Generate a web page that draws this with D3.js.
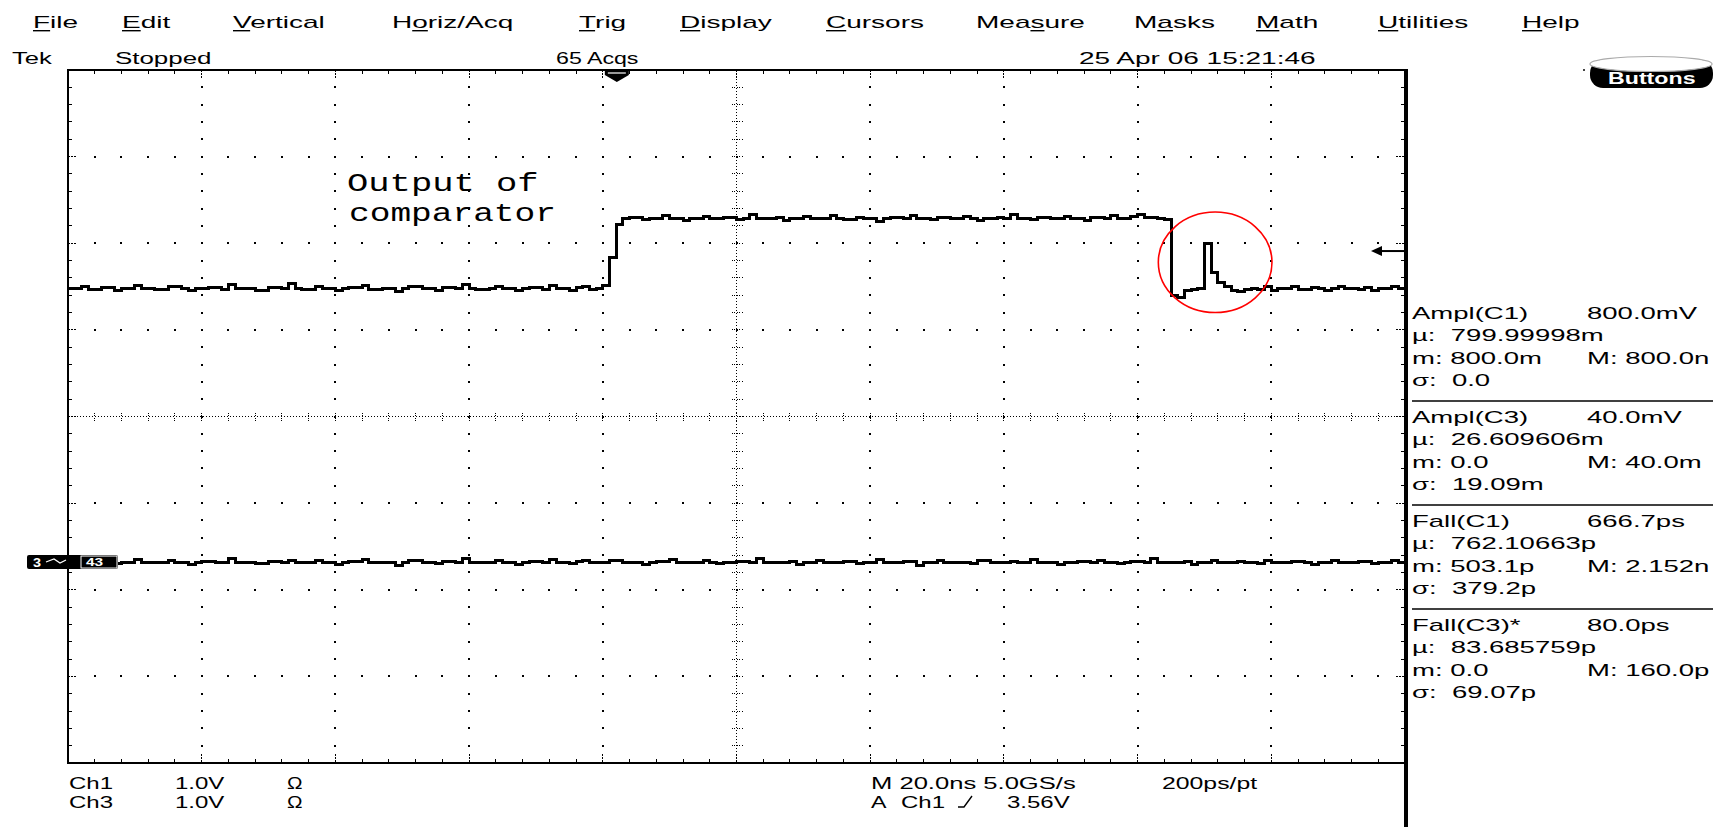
<!DOCTYPE html>
<html>
<head>
<meta charset="utf-8">
<script src="https://cdn.jsdelivr.net/npm/d3@7"></script>
<style>
  html, body { margin: 0; padding: 0; background: #fff; overflow: hidden; }
  svg { display: block; }
</style>
</head>
<body>
<svg id="scope" width="1728" height="827"></svg>
<script>
// ---------------- data ----------------
const menuItems   = ["File", "Edit", "Vertical", "Horiz/Acq", "Trig", "Display", "Cursors", "Measure", "Masks", "Math", "Utilities", "Help"];
const menuHotkeys = [0, 0, 0, 1, 0, 0, 0, 3, 1, 0, 0, 0];   // underlined letter index

const statusItems = ["Tek", "Stopped", "65 Acqs", "25 Apr 06 15:21:46"];

const horizDivs = 10, vertDivs = 8;
const nsPerDiv = 20, voltsPerDiv = 1.0;
const sampleIntervalNs = 1;
const triggerTimeNs = 82.1;
const refLevelVolts = 1.91;

// Ch1: comparator output (volts, one sample per ns)
const ch1Volts = [
  1.48,1.48,1.50,1.47,1.47,1.49,1.49,1.46,1.48,1.48,
  1.51,1.48,1.48,1.47,1.47,1.50,1.50,1.48,1.45,1.48,
  1.48,1.49,1.49,1.47,1.52,1.48,1.48,1.48,1.46,1.46,
  1.49,1.49,1.48,1.53,1.48,1.47,1.47,1.50,1.48,1.48,
  1.45,1.48,1.49,1.49,1.51,1.47,1.47,1.48,1.48,1.44,
  1.48,1.50,1.50,1.48,1.48,1.46,1.49,1.49,1.48,1.52,
  1.48,1.47,1.47,1.48,1.50,1.48,1.48,1.45,1.48,1.49,
  1.49,1.47,1.51,1.48,1.48,1.46,1.49,1.50,1.47,1.48,
  1.51,1.84,2.22,
  2.28,2.30,2.30,2.27,2.29,2.29,2.32,2.28,2.28,2.26,
  2.29,2.29,2.31,2.28,2.28,2.30,2.30,2.27,2.29,2.33,
  2.29,2.28,2.28,2.30,2.26,2.29,2.29,2.31,2.28,2.28,
  2.29,2.32,2.29,2.27,2.27,2.30,2.29,2.29,2.25,2.29,
  2.30,2.30,2.28,2.32,2.29,2.29,2.27,2.30,2.30,2.28,
  2.28,2.31,2.29,2.26,2.29,2.29,2.30,2.28,2.33,2.29,
  2.29,2.27,2.30,2.30,2.28,2.29,2.31,2.29,2.29,2.26,
  2.30,2.30,2.29,2.32,2.29,2.29,2.31,2.33,2.30,2.30,
  2.29,2.27,
  1.40,1.37,1.45,1.47,1.48,2.00,1.66,1.55,1.50,1.46,
  1.44,1.47,1.48,1.47,1.50,1.46,
  1.48,1.48,1.50,1.47,1.47,1.49,1.48,1.46,1.48,1.50,
  1.48,1.48,1.47,1.49,1.45,1.48,1.48,1.50,1.48,1.48
];

// Ch3 (volts, one sample per ns)
const ch3Volts = [
  -1.68,-1.68,-1.66,-1.69,-1.69,-1.67,-1.67,-1.70,-1.68,-1.68,
  -1.65,-1.68,-1.68,-1.69,-1.69,-1.66,-1.68,-1.68,-1.71,-1.68,
  -1.67,-1.67,-1.69,-1.69,-1.64,-1.68,-1.68,-1.68,-1.70,-1.70,
  -1.67,-1.67,-1.68,-1.66,-1.68,-1.69,-1.69,-1.66,-1.68,-1.68,
  -1.71,-1.68,-1.67,-1.67,-1.65,-1.69,-1.69,-1.68,-1.68,-1.72,
  -1.68,-1.66,-1.66,-1.68,-1.68,-1.70,-1.67,-1.67,-1.68,-1.64,
  -1.68,-1.69,-1.69,-1.68,-1.66,-1.68,-1.68,-1.71,-1.68,-1.67,
  -1.67,-1.69,-1.65,-1.68,-1.68,-1.70,-1.67,-1.66,-1.69,-1.68,
  -1.68,-1.66,-1.66,-1.69,-1.68,-1.68,-1.71,-1.68,-1.67,-1.67,
  -1.65,-1.68,-1.68,-1.69,-1.69,-1.66,-1.68,-1.70,-1.68,-1.68,
  -1.67,-1.67,-1.69,-1.64,-1.68,-1.68,-1.69,-1.69,-1.67,-1.71,
  -1.68,-1.68,-1.66,-1.68,-1.69,-1.69,-1.67,-1.67,-1.70,-1.68,
  -1.68,-1.65,-1.68,-1.68,-1.69,-1.67,-1.67,-1.72,-1.68,-1.68,
  -1.66,-1.69,-1.69,-1.68,-1.68,-1.70,-1.66,-1.66,-1.68,-1.69,
  -1.69,-1.67,-1.68,-1.68,-1.65,-1.69,-1.69,-1.68,-1.71,-1.68,
  -1.68,-1.67,-1.67,-1.69,-1.66,-1.68,-1.68,-1.70,-1.68,-1.67,
  -1.67,-1.69,-1.64,-1.68,-1.68,-1.69,-1.69,-1.67,-1.71,-1.68,
  -1.68,-1.66,-1.68,-1.69,-1.69,-1.67,-1.68,-1.68,-1.70,-1.66,
  -1.68,-1.68,-1.69,-1.67,-1.67,-1.68,-1.71,-1.68,-1.68,-1.66,
  -1.69,-1.69,-1.68,-1.67,-1.67,-1.70,-1.68,-1.68,-1.66,-1.68,
  -1.68
];

// Measurement readouts
const measTitles = ["Ampl(C1)", "Ampl(C3)", "Fall(C1)", "Fall(C3)*"];
const measValues = ["800.0mV", "40.0mV", "666.7ps", "80.0ps"];
const measMeans  = ["799.99998m", "26.609606m", "762.10663p", "83.685759p"];
const measMins   = ["800.0m", "0.0", "503.1p", "0.0"];
const measMaxes  = ["800.0n", "40.0m", "2.152n", "160.0p"];
const measSigmas = ["0.0", "19.09m", "379.2p", "69.07p"];

const chSettings  = [["Ch1", "1.0V", "\u03A9"], ["Ch3", "1.0V", "\u03A9"]];
const horizLine   = ["M 20.0ns 5.0GS/s", "200ps/pt"];
const trigLine    = ["A", "Ch1", "3.56V"];
const noteLines   = ["Output of", "comparator"];

// ---------------- layout ----------------
const svg = d3.select("#scope");
const X0 = 68, X1 = 1405, Y0 = 70, Y1 = 763;
const SANS = "'Liberation Sans', Arial, sans-serif";
const MONO = "'Liberation Mono', 'Courier New', monospace";

svg.append("rect").attr("width", 1728).attr("height", 827).attr("fill", "#fff");

const xDiv  = d3.scaleLinear().domain([0, horizDivs]).range([X0, X1]);
const yDiv  = d3.scaleLinear().domain([-vertDivs / 2, vertDivs / 2]).range([Y1, Y0]);
const xTime = d3.scaleLinear().domain([0, horizDivs * nsPerDiv]).range([X0, X1]);
const yVolt = d3.scaleLinear().domain([-vertDivs / 2 * voltsPerDiv, vertDivs / 2 * voltsPerDiv]).range([Y1, Y0]);

function stext(g, x, y, str, size, sx, family, fill) {
  return g.append("text")
    .attr("transform", `translate(${x},${y}) scale(${sx},1)`)
    .attr("font-family", family || SANS)
    .attr("font-size", size)
    .attr("fill", fill || "#000")
    .text(str);
}

// ---------------- menu bar ----------------
const menuX = [33, 122, 233, 392, 579, 680, 826, 976, 1134, 1256, 1378, 1522];
const menuG = svg.append("g");
menuItems.forEach((m, i) => {
  const sx = 1.75;
  const t = stext(menuG, menuX[i], 28, m, 16, sx);
  const node = t.node();
  const k = menuHotkeys[i];
  const a = k > 0 ? node.getSubStringLength(0, k) : 0;
  const w = node.getSubStringLength(k, 1);
  menuG.append("rect")
    .attr("x", menuX[i] + a * sx).attr("y", 30)
    .attr("width", w * sx).attr("height", 1.4).attr("fill", "#000");
});

// ---------------- status row ----------------
const statusX = [12, 115, 556, 1079];
const statusSx = [1.6, 1.62, 1.45, 1.75];
statusItems.forEach((s, i) => stext(svg, statusX[i], 64, s, 16, statusSx[i]));

// "Buttons" control
const btn = svg.append("g");
btn.append("rect").attr("x", 1590).attr("y", 60).attr("width", 123).attr("height", 28)
  .attr("rx", 13).attr("fill", "#000");
stext(btn, 1608, 84, "Buttons", 16, 1.45, SANS, "#fff").attr("font-weight", "bold");
btn.append("ellipse").attr("cx", 1651).attr("cy", 64).attr("rx", 61).attr("ry", 7.5)
  .attr("fill", "#fff").attr("stroke", "#aaa").attr("stroke-width", 1.2);
btn.append("rect").attr("x", 1583).attr("y", 69).attr("width", 2).attr("height", 2).attr("fill", "#444");

// ---------------- graticule ----------------
const grid = svg.append("g").attr("shape-rendering", "crispEdges");
const minorX = d3.range(0, horizDivs * 5 + 1).map(i => i / 5);
const minorY = d3.range(0, vertDivs * 5 + 1).map(i => -vertDivs / 2 + i / 5);

// dotted major lines
d3.range(1, horizDivs).filter(k => k !== horizDivs / 2).forEach(k => {
  grid.selectAll(null).data(minorY.slice(1, -1)).enter().append("rect")
    .attr("x", xDiv(k) - 1).attr("y", d => yDiv(d) - 1)
    .attr("width", 2).attr("height", 2).attr("fill", "#000");
});
d3.range(-vertDivs / 2 + 1, vertDivs / 2).filter(k => k !== 0).forEach(k => {
  grid.selectAll(null).data(minorX.slice(1, -1)).enter().append("rect")
    .attr("x", d => xDiv(d) - 1).attr("y", yDiv(k) - 1)
    .attr("width", 2).attr("height", 2).attr("fill", "#000");
});

// center cross lines
const cx0 = xDiv(horizDivs / 2), cy0 = yDiv(0);
grid.append("line").attr("x1", cx0).attr("x2", cx0).attr("y1", Y0).attr("y2", Y1)
  .attr("stroke", "#000").attr("stroke-width", 1).attr("stroke-dasharray", "1,2");
grid.append("line").attr("x1", X0).attr("x2", X1).attr("y1", cy0).attr("y2", cy0)
  .attr("stroke", "#000").attr("stroke-width", 1).attr("stroke-dasharray", "1,2");
grid.selectAll(null).data(minorY.slice(1, -1)).enter().append("line")
  .attr("x1", cx0 - 5).attr("x2", cx0 + 6).attr("y1", d => yDiv(d)).attr("y2", d => yDiv(d))
  .attr("stroke", "#000").attr("stroke-width", 1).attr("stroke-dasharray", "1,1.5");
grid.selectAll(null).data(minorX.slice(1, -1)).enter().append("line")
  .attr("y1", cy0 - 4).attr("y2", cy0 + 5).attr("x1", d => xDiv(d)).attr("x2", d => xDiv(d))
  .attr("stroke", "#000").attr("stroke-width", 1).attr("stroke-dasharray", "1,1.5");

// border ticks
const isMajor = v => Math.abs(v - Math.round(v)) < 1e-6;
minorX.slice(1, -1).forEach(v => {
  const len = isMajor(v) ? 9 : 4;
  const dash = isMajor(v) ? "1.5,1.5" : null;
  [[Y0, Y0 + len], [Y1 - len, Y1]].forEach(([a, b]) => {
    grid.append("line").attr("x1", xDiv(v)).attr("x2", xDiv(v)).attr("y1", a).attr("y2", b)
      .attr("stroke", "#000").attr("stroke-width", 1).attr("stroke-dasharray", dash);
  });
});
minorY.slice(1, -1).forEach(v => {
  const len = isMajor(v) ? 9 : 4;
  const dash = isMajor(v) ? "1.5,1.5" : null;
  [[X0, X0 + len], [X1 - len, X1]].forEach(([a, b]) => {
    grid.append("line").attr("x1", a).attr("x2", b).attr("y1", yDiv(v)).attr("y2", yDiv(v))
      .attr("stroke", "#000").attr("stroke-width", 1).attr("stroke-dasharray", dash);
  });
});

// frame
grid.append("line").attr("x1", X0).attr("x2", X1).attr("y1", Y0).attr("y2", Y0).attr("stroke", "#000").attr("stroke-width", 2);
grid.append("line").attr("x1", X0).attr("x2", X1).attr("y1", Y1).attr("y2", Y1).attr("stroke", "#000").attr("stroke-width", 2);
grid.append("line").attr("x1", X0).attr("x2", X0).attr("y1", Y0 - 1).attr("y2", Y1 + 1).attr("stroke", "#000").attr("stroke-width", 2);
grid.append("rect").attr("x", X1 - 1).attr("y", Y0 - 1).attr("width", 4).attr("height", 827 - Y0 + 1).attr("fill", "#000");

// ---------------- waveforms ----------------
const wave = d3.line()
  .x((d, i) => xTime(i * sampleIntervalNs))
  .y(d => yVolt(d))
  .curve(d3.curveStepAfter);

svg.append("path").datum(ch3Volts).attr("d", wave)
  .attr("fill", "none").attr("stroke", "#000").attr("stroke-width", 3)
  .attr("shape-rendering", "crispEdges");
svg.append("path").datum(ch1Volts).attr("d", wave)
  .attr("fill", "none").attr("stroke", "#000").attr("stroke-width", 3)
  .attr("shape-rendering", "crispEdges");

// trigger position marker
const tx = xTime(triggerTimeNs);
svg.append("path").attr("d", `M${tx - 12},${Y0} H${tx + 12} V${Y0 + 5} L${tx},${Y0 + 12} L${tx - 12},${Y0 + 5} Z`).attr("fill", "#000");
svg.append("line").attr("x1", tx - 9).attr("x2", tx + 9).attr("y1", Y0 + 3).attr("y2", Y0 + 3).attr("stroke", "#fff").attr("stroke-width", 1.2);

// reference level arrow
const ay = yVolt(refLevelVolts);
svg.append("line").attr("x1", X1 - 24).attr("x2", X1).attr("y1", ay).attr("y2", ay).attr("stroke", "#000").attr("stroke-width", 2);
svg.append("path").attr("d", `M${X1 - 34},${ay} L${X1 - 23},${ay - 5} L${X1 - 23},${ay + 5} Z`).attr("fill", "#000");

// Ch3 channel marker
const m3y = yVolt(ch3Volts[0]);
const mk = svg.append("g");
mk.append("rect").attr("x", 27).attr("y", m3y - 7).attr("width", 91).attr("height", 14).attr("rx", 2).attr("fill", "#000");
stext(mk, 33, m3y + 5, "3", 12, 1.2, SANS, "#fff").attr("font-weight", "bold");
mk.append("path").attr("d", `M46,${m3y} l8,-3 l6,4 l6,-3`).attr("fill", "none").attr("stroke", "#fff").attr("stroke-width", 1.2);
mk.append("rect").attr("x", 81).attr("y", m3y - 6).attr("width", 36).attr("height", 12).attr("fill", "none").attr("stroke", "#fff").attr("stroke-width", 1);
stext(mk, 86, m3y + 4, "43", 11, 1.4, SANS, "#fff").attr("font-weight", "bold");

// annotation circle around the ringing after the falling edge
svg.append("ellipse")
  .attr("cx", xTime(171.6)).attr("cy", yVolt(1.78))
  .attr("rx", xTime(8.5) - xTime(0)).attr("ry", yVolt(0) - yVolt(0.58))
  .attr("fill", "none").attr("stroke", "#f00").attr("stroke-width", 1.6);

// annotation text
stext(svg, 347, 191, noteLines[0], 25, 1.42, MONO);
stext(svg, 349, 221, noteLines[1], 25, 1.38, MONO);

// ---------------- measurement panel ----------------
const panel = svg.append("g");
const PX = 1412, VX = 1587;
measTitles.forEach((t, i) => {
  const top = 319 + 104 * i;
  const sx = 1.72;
  stext(panel, PX, top, t, 16, sx);
  stext(panel, VX, top, measValues[i], 16, sx);
  stext(panel, PX, top + 22, "\u00B5:  " + measMeans[i], 16, sx).attr("xml:space", "preserve");
  stext(panel, PX, top + 45, "m: " + measMins[i], 16, sx);
  stext(panel, VX, top + 45, "M: " + measMaxes[i], 16, sx);
  stext(panel, PX, top + 67, "\u03C3:  " + measSigmas[i], 16, sx).attr("xml:space", "preserve");
  if (i < measTitles.length - 1) {
    panel.append("line").attr("x1", PX).attr("x2", 1713).attr("y1", top + 82).attr("y2", top + 82)
      .attr("stroke", "#000").attr("stroke-width", 1.5);
  }
});

// ---------------- bottom settings ----------------
const chX = [69, 175, 287];
chSettings.forEach((row, r) => {
  row.forEach((s, c) => stext(svg, chX[c], 789 + r * 19, s, 16, c === 2 ? 1.3 : 1.5));
});
stext(svg, 871, 789, horizLine[0], 16, 1.6);
stext(svg, 1162, 789, horizLine[1], 16, 1.55);
stext(svg, 871, 808, trigLine[0], 16, 1.45);
stext(svg, 901, 808, trigLine[1], 16, 1.5);
svg.append("path").attr("d", "M958,807 L964,807 L972,796").attr("fill", "none").attr("stroke", "#000").attr("stroke-width", 1.4);
stext(svg, 1007, 808, trigLine[2], 16, 1.5);
</script>
</body>
</html>
